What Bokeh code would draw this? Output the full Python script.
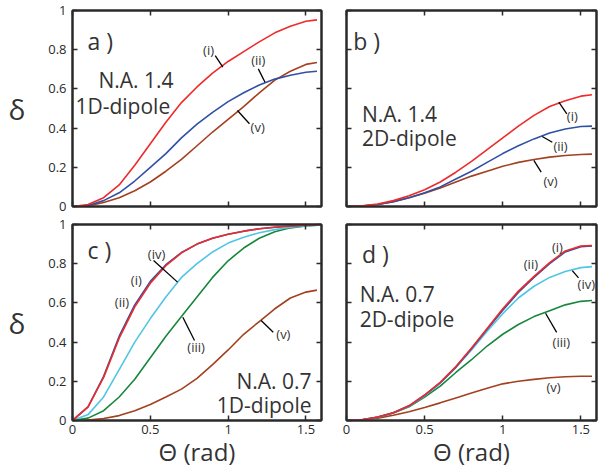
from bokeh.plotting import figure
from bokeh.layouts import gridplot
from bokeh.models import FixedTicker, LinearAxis, Label, Range1d
from bokeh.embed import file_html
from bokeh.resources import INLINE

FONT = "Open Sans"

# ---------------- data ----------------
theta = [0.0, 0.1, 0.2, 0.3, 0.4, 0.5, 0.6, 0.7, 0.8, 0.9, 1.0,
         1.1, 1.2, 1.3, 1.4, 1.5, 1.571]

x_ticks = [0, 0.5, 1, 1.5]
x_tick_labels = ["0", "0.5", "1", "1.5"]
y_ticks = [0, 0.2, 0.4, 0.6, 0.8, 1]
y_tick_labels = ["0", "0.2", "0.4", "0.6", "0.8", "1"]

# panel a : N.A. 1.4, 1D-dipole
a_i = [0, 0.01, 0.045, 0.11, 0.21, 0.32, 0.43, 0.53, 0.61, 0.68, 0.74,
       0.79, 0.84, 0.886, 0.92, 0.945, 0.952]
a_ii = [0, 0.005, 0.03, 0.07, 0.13, 0.20, 0.27, 0.35, 0.42, 0.48, 0.535,
        0.58, 0.62, 0.65, 0.67, 0.685, 0.69]
a_v = [0, 0.003, 0.02, 0.045, 0.08, 0.125, 0.18, 0.24, 0.31, 0.38, 0.445,
       0.51, 0.58, 0.645, 0.69, 0.725, 0.735]

# panel b : N.A. 1.4, 2D-dipole
b_i = [0, 0.003, 0.013, 0.03, 0.055, 0.085, 0.125, 0.175, 0.23, 0.29, 0.35,
       0.41, 0.465, 0.51, 0.54, 0.563, 0.57]
b_ii = [0, 0.002, 0.01, 0.025, 0.045, 0.07, 0.10, 0.14, 0.18, 0.225, 0.27,
        0.31, 0.345, 0.375, 0.395, 0.408, 0.41]
b_v = [0, 0.002, 0.01, 0.025, 0.045, 0.068, 0.095, 0.125, 0.155, 0.18, 0.205,
       0.225, 0.24, 0.252, 0.26, 0.265, 0.267]

# panel c : N.A. 0.7, 1D-dipole
c_i = [0, 0.07, 0.22, 0.42, 0.58, 0.70, 0.79, 0.855, 0.90, 0.93, 0.95,
       0.966, 0.978, 0.986, 0.992, 0.996, 0.998]
c_ii = [0, 0.07, 0.225, 0.43, 0.59, 0.71, 0.795, 0.857, 0.90, 0.93, 0.95,
        0.966, 0.978, 0.986, 0.992, 0.996, 0.998]
c_iii = [0, 0.012, 0.05, 0.12, 0.21, 0.32, 0.43, 0.53, 0.63, 0.73, 0.815,
         0.88, 0.93, 0.963, 0.983, 0.993, 0.997]
c_iv = [0, 0.03, 0.12, 0.26, 0.40, 0.52, 0.63, 0.73, 0.80, 0.86, 0.905,
        0.935, 0.958, 0.974, 0.986, 0.993, 0.996]
c_v = [0, 0.002, 0.01, 0.025, 0.05, 0.082, 0.12, 0.16, 0.215, 0.285, 0.36,
       0.44, 0.505, 0.57, 0.625, 0.655, 0.665]

# panel d : N.A. 0.7, 2D-dipole
d_i = [0, 0.004, 0.018, 0.04, 0.075, 0.13, 0.195, 0.275, 0.37, 0.47, 0.57,
       0.66, 0.735, 0.805, 0.865, 0.89, 0.893]
d_ii = [0, 0.004, 0.018, 0.04, 0.075, 0.129, 0.193, 0.272, 0.366, 0.465,
        0.563, 0.653, 0.73, 0.80, 0.86, 0.887, 0.89]
d_iii = [0, 0.004, 0.017, 0.038, 0.07, 0.12, 0.175, 0.245, 0.31, 0.38, 0.44,
         0.49, 0.53, 0.56, 0.59, 0.608, 0.612]
d_iv = [0, 0.004, 0.017, 0.039, 0.073, 0.125, 0.19, 0.27, 0.36, 0.455, 0.545,
        0.625, 0.685, 0.73, 0.76, 0.78, 0.785]
d_v = [0, 0.003, 0.012, 0.027, 0.045, 0.066, 0.09, 0.115, 0.14, 0.165, 0.187,
       0.20, 0.21, 0.218, 0.223, 0.226, 0.226]

RED = "#ee2a2a"
BLUE = "#2f50a5"
BROWN = "#a3401f"
CYAN = "#52c5e4"
GREEN = "#17873c"
INK = "#2a2a2a"
TXT = "#333333"


def style_axis(ax, ticks, labels, show):
    ax.ticker = FixedTicker(ticks=ticks)
    ax.minor_tick_line_color = None
    ax.major_tick_in = 5
    ax.major_tick_out = 0
    ax.major_tick_line_width = 1.5
    ax.major_tick_line_color = INK
    ax.axis_line_width = 2
    ax.axis_line_color = INK
    if show:
        ax.major_label_overrides = dict(zip(ticks, labels))
        ax.major_label_text_font = FONT
        ax.major_label_text_font_size = "13px"
        ax.major_label_text_color = INK
    else:
        ax.major_label_overrides = {t: "" for t in ticks}
        ax.major_label_text_font_size = "0px"
        ax.major_label_standoff = 0


def make_panel(width, height, borders, show_x, show_y, series, texts,
               tags, pointers):
    left, right, top, bottom = borders
    p = figure(width=width, height=height, x_range=Range1d(0, 1.6),
               y_range=Range1d(0, 1), output_backend="svg",
               toolbar_location=None, min_border_left=left,
               min_border_right=right, min_border_top=top,
               min_border_bottom=bottom)
    p.background_fill_color = "white"
    p.border_fill_color = "white"
    p.outline_line_color = INK
    p.outline_line_width = 2
    p.xgrid.visible = False
    p.ygrid.visible = False
    p.add_layout(LinearAxis(), "above")
    p.add_layout(LinearAxis(), "right")
    xb = p.below[0]
    yl = p.left[0]
    style_axis(xb, x_ticks, x_tick_labels, show_x)
    style_axis(yl, y_ticks, y_tick_labels, show_y)
    style_axis(p.above[0], x_ticks, x_tick_labels, False)
    style_axis(p.right[0], y_ticks, y_tick_labels, False)
    if show_x:
        xb.major_label_standoff = 4
        xb.axis_label = "Θ (rad)"
        xb.axis_label_text_font = FONT
        xb.axis_label_text_font_size = "24px"
        xb.axis_label_text_font_style = "normal"
        xb.axis_label_text_color = TXT
        xb.axis_label_standoff = -2
    if show_y:
        yl.major_label_standoff = 6
        yl.axis_label = "δ"
        yl.axis_label_text_font = FONT
        yl.axis_label_text_font_size = "28px"
        yl.axis_label_text_font_style = "normal"
        yl.axis_label_text_color = TXT
        yl.axis_label_standoff = 20
        if "axis_label_orientation" in type(yl).properties():
            yl.axis_label_orientation = "horizontal"

    for ys, col in series:
        p.line(theta, ys, line_color=col, line_width=1.6)

    for txt, x, y, size, align in texts:
        p.add_layout(Label(x=x, y=y, text=txt, text_font=FONT,
                           text_font_size=size, text_color=TXT,
                           text_align=align, text_baseline="alphabetic"))
    for txt, x, y in tags:
        p.add_layout(Label(x=x, y=y, text=txt, text_font=FONT,
                           text_font_size="13px", text_color=TXT,
                           text_align="center", text_baseline="middle"))
    if pointers:
        x0, y0, x1, y1 = zip(*pointers)
        p.segment(x0=list(x0), y0=list(y0), x1=list(x1), y1=list(y1),
                  line_color="black", line_width=1.3)
    return p


# figure sizes: left column 334 px, right column 277 px;
# top row 215 px, bottom row 258 px  (total 611 x 473)
pa = make_panel(
    334, 215, (72, 13, 10, 9), False, True,
    [(a_v, BROWN), (a_ii, BLUE), (a_i, RED)],
    [("a )", 0.096, 0.842, "23px", "left"),
     ("N.A. 1.4", 0.167, 0.643, "21px", "left"),
     ("1D-dipole", 0.019, 0.515, "21px", "left")],
    [("(i)", 0.874, 0.80), ("(ii)", 1.194, 0.746), ("(v)", 1.19, 0.408)],
    [(0.917, 0.77, 0.966, 0.711), (1.194, 0.702, 1.237, 0.634),
     (1.06, 0.49, 1.137, 0.422)])

pb = make_panel(
    277, 215, (12, 15, 10, 9), False, False,
    [(b_v, BROWN), (b_ii, BLUE), (b_i, RED)],
    [("b )", 0.043, 0.842, "23px", "left"),
     ("N.A. 1.4", 0.099, 0.474, "21px", "left"),
     ("2D-dipole", 0.099, 0.352, "21px", "left")],
    [("(i)", 1.445, 0.46), ("(ii)", 1.37, 0.311), ("(v)", 1.306, 0.128)],
    [(1.359, 0.532, 1.41, 0.473), (1.253, 0.357, 1.317, 0.328),
     (1.199, 0.235, 1.246, 0.175)])

pc = make_panel(
    334, 258, (72, 13, 9, 53), True, True,
    [(c_v, BROWN), (c_iii, GREEN), (c_iv, CYAN), (c_ii, BLUE), (c_i, RED)],
    [("c )", 0.096, 0.872, "23px", "left"),
     ("N.A. 0.7", 1.536, 0.204, "21px", "right"),
     ("1D-dipole", 1.536, 0.077, "21px", "right")],
    [("(iv)", 0.54, 0.847), ("(i)", 0.41, 0.719), ("(ii)", 0.318, 0.607),
     ("(iii)", 0.794, 0.374), ("(v)", 1.355, 0.442)],
    [(0.521, 0.816, 0.675, 0.706), (0.709, 0.527, 0.784, 0.408),
     (1.212, 0.51, 1.29, 0.45)])

pd_ = make_panel(
    277, 258, (12, 15, 9, 53), True, False,
    [(d_v, BROWN), (d_iii, GREEN), (d_iv, CYAN), (d_ii, BLUE), (d_i, RED)],
    [("d )", 0.099, 0.847, "23px", "left"),
     ("N.A. 0.7", 0.084, 0.643, "21px", "left"),
     ("2D-dipole", 0.084, 0.52, "21px", "left")],
    [("(i)", 1.35, 0.885), ("(ii)", 1.18, 0.80), ("(iv)", 1.535, 0.695),
     ("(iii)", 1.375, 0.398), ("(v)", 1.325, 0.173)],
    [(1.445, 0.765, 1.485, 0.728), (1.274, 0.547, 1.345, 0.45)])

grid = gridplot([[pa, pb], [pc, pd_]], toolbar_location=None)

open("out.html", "w").write(file_html(grid, INLINE))
